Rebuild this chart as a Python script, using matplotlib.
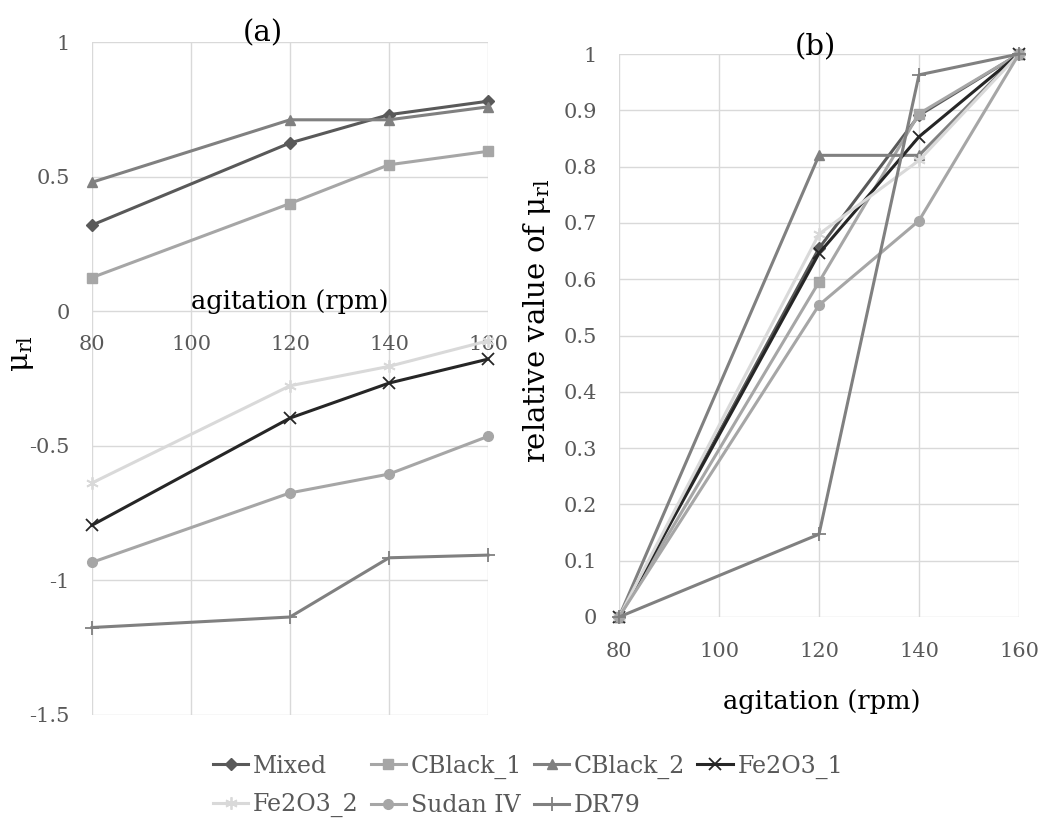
import numpy as np
import matplotlib
matplotlib.use('Agg')
import matplotlib.pyplot as plt
from matplotlib.lines import Line2D

plt.rcParams['font.family'] = 'DejaVu Serif'
plt.rcParams['mathtext.fontset'] = 'dejavuserif'

# agitation speeds (rpm)
rpm = [80, 120, 140, 160]

# (a) mu_rl for each pigment
mixed_a = [0.32, 0.625, 0.73, 0.78]
cblack1_a = [0.125, 0.40, 0.544, 0.594]
cblack2_a = [0.479, 0.711, 0.711, 0.759]
fe2o3_1_a = [-0.795, -0.397, -0.267, -0.178]
fe2o3_2_a = [-0.638, -0.277, -0.205, -0.11]
sudan_a = [-0.933, -0.675, -0.605, -0.465]
dr79_a = [-1.175, -1.136, -0.916, -0.906]

# (b) values relative to the 80..160 rpm span
mixed_b = [0, 0.655, 0.891, 1]
cblack1_b = [0, 0.595, 0.894, 1]
cblack2_b = [0, 0.82, 0.82, 1]
fe2o3_1_b = [0, 0.646, 0.853, 1]
fe2o3_2_b = [0, 0.68, 0.811, 1]
sudan_b = [0, 0.554, 0.704, 1]
dr79_b = [0, 0.147, 0.963, 1]

names = ['Mixed', 'CBlack_1', 'CBlack_2', 'Fe2O3_1', 'Fe2O3_2', 'Sudan IV', 'DR79']
series_a = [mixed_a, cblack1_a, cblack2_a, fe2o3_1_a, fe2o3_2_a, sudan_a, dr79_a]
series_b = [mixed_b, cblack1_b, cblack2_b, fe2o3_1_b, fe2o3_2_b, sudan_b, dr79_b]

styles = [
    dict(color='#595959', marker='D', ms=6),
    dict(color='#a6a6a6', marker='s', ms=7),
    dict(color='#808080', marker='^', ms=7),
    dict(color='#262626', marker='x', ms=8, mew=1.3),
    dict(color='#d9d9d9', marker=(6, 2, 0), ms=9, mew=1.3),
    dict(color='#a6a6a6', marker='o', ms=7),
    dict(color='#808080', marker='+', ms=10, mew=1.3),
]

W, H = 1054, 823
fig = plt.figure(figsize=(W / 100, H / 100), dpi=100)


def px_axes(l, t, r, b):
    return fig.add_axes([l / W, 1 - b / H, (r - l) / W, (b - t) / H])


def style_axes(ax):
    ax.grid(True, color='#d9d9d9', lw=1.0)
    ax.set_axisbelow(True)
    for s in ax.spines.values():
        s.set_visible(False)
    ax.set_xticks([80, 100, 120, 140, 160])
    ax.set_xlim(80, 160)


# panel (a)
ax1 = px_axes(92, 42, 488, 715)
style_axes(ax1)
ax1.set_ylim(-1.5, 1)
ax1.set_yticks([-1.5, -1, -0.5, 0, 0.5, 1])
ax1.set_yticklabels(['-1.5', '-1', '-0.5', '0', '0.5', '1'])
ax1.spines['bottom'].set_visible(True)
ax1.spines['bottom'].set_color('none')
ax1.spines['bottom'].set_position(('data', 0))
ax1.tick_params(axis='y', length=0, pad=16, labelsize=15, labelcolor='#595959')
ax1.tick_params(axis='x', length=0, pad=17, labelsize=15, labelcolor='#595959')
for vals, st in zip(series_a, styles):
    ax1.plot(rpm, vals, lw=2.2, clip_on=False, **st)
ax1.text(120, 0.035, 'agitation (rpm)', ha='center', va='center', fontsize=18.5)
fig.text(263 / W, 1 - 33 / H, '(a)', ha='center', va='center', fontsize=21)
fig.text(22 / W, 1 - 354 / H, r'$\mathrm{μ_{rl}}$', ha='center', va='center',
         rotation=90, fontsize=21)

# panel (b)
ax2 = px_axes(619, 54, 1019, 617)
style_axes(ax2)
ax2.set_ylim(0, 1)
ax2.set_yticks(np.arange(0, 11) / 10)
ax2.set_yticklabels(['0', '0.1', '0.2', '0.3', '0.4', '0.5', '0.6', '0.7', '0.8', '0.9', '1'])
ax2.tick_params(axis='y', length=0, pad=16, labelsize=15, labelcolor='#595959')
ax2.tick_params(axis='x', length=0, pad=18, labelsize=15, labelcolor='#595959')
for vals, st in zip(series_b, styles):
    ax2.plot(rpm, vals, lw=2.2, clip_on=False, **st)
fig.text(822 / W, 1 - 702 / H, 'agitation (rpm)', ha='center', va='center', fontsize=18.5)
fig.text(815 / W, 1 - 47 / H, '(b)', ha='center', va='center', fontsize=21)
fig.text(537 / W, 1 - 321 / H, r'relative value of $\mathrm{μ_{rl}}$', ha='center',
         va='center', rotation=90, fontsize=21)

# shared legend, filled row by row
handles = [Line2D([], [], lw=2.2, **st) for st in styles]
order = [0, 4, 1, 5, 2, 6, 3]
fig.legend([handles[i] for i in order], [names[i] for i in order], loc='center',
           bbox_to_anchor=(528 / W, 1 - 786 / H),
           ncol=4, frameon=False, fontsize=17, handlelength=1.5, handletextpad=0.2,
           columnspacing=0.5, labelspacing=0.65, borderaxespad=0, labelcolor='#595959')

fig.savefig('out.png', dpi=100)
